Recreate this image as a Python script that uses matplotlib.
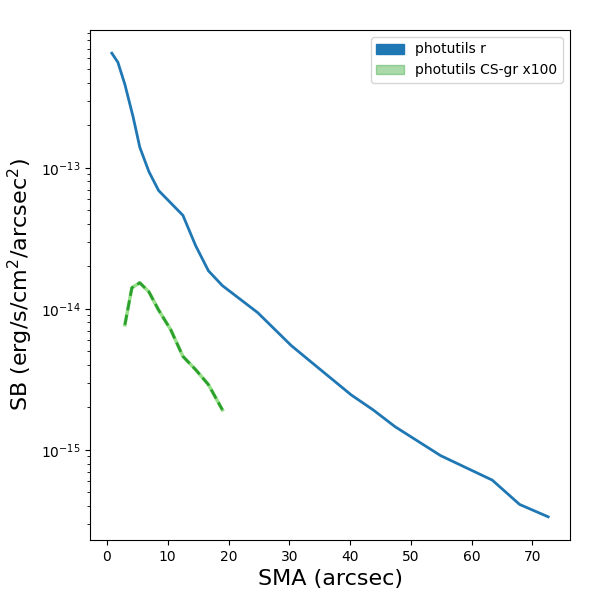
import numpy as np
import matplotlib
matplotlib.use("Agg")
import matplotlib.pyplot as plt
from matplotlib.patches import Patch

# photutils r profile
sma_r = [0.8, 1.8, 2.95, 4.3, 5.4, 6.9, 8.5, 12.5, 14.6, 16.7, 19.0, 24.8, 30.3,
         33.3, 40.2, 43.8, 47.4, 54.9, 63.4, 67.9, 72.6]
sb_r = [6.5e-13, 5.6e-13, 3.9e-13, 2.3e-13, 1.4e-13, 9.4e-14, 6.9e-14, 4.6e-14,
        2.8e-14, 1.86e-14, 1.46e-14, 9.4e-15, 5.5e-15, 4.3e-15, 2.45e-15, 1.92e-15,
        1.46e-15, 9.1e-16, 6.1e-16, 4.1e-16, 3.35e-16]

# photutils CS-gr x100
sma_cs = [2.95, 4.1, 5.4, 6.9, 8.5, 10.5, 12.5, 14.6, 16.7, 19.0]
sb_cs = [7.7e-15, 1.41e-14, 1.53e-14, 1.32e-14, 9.8e-15, 7.1e-15, 4.6e-15,
         3.7e-15, 2.9e-15, 1.92e-15]

fig = plt.figure(figsize=(6, 6), dpi=100)
ax = fig.add_axes([0.15, 0.1, 0.8, 0.85])

ax.plot(sma_r, sb_r, color='tab:blue', lw=2)
ax.plot(sma_cs, sb_cs, color='#98df8a', lw=2.5)
ax.plot(sma_cs, sb_cs, color='tab:green', lw=2, ls='--')

ax.set_yscale('log')
ax.set_xlabel('SMA (arcsec)', fontsize=16)
ax.set_ylabel('SB (erg/s/cm$^2$/arcsec$^2$)', fontsize=16)

handles = [Patch(color='tab:blue', label='photutils r'),
           Patch(color='tab:green', alpha=0.4, label='photutils CS-gr x100')]
ax.legend(handles=handles, loc='upper right')

fig.savefig('out.png')
